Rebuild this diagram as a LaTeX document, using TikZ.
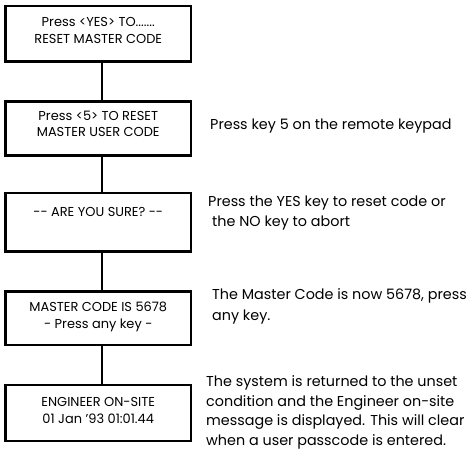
\documentclass[tikz,border=0pt]{standalone}
\usepackage{fontspec}
\setmainfont{Poppins}
\begin{document}
\begin{tikzpicture}[x=1bp,y=-1bp,
  box/.style={draw, line width=2.8bp, minimum width=185.5bp, inner sep=0pt},
  boxtext/.style={font=\fontsize{13}{17}\selectfont, align=center, anchor=base, inner sep=0pt},
  note/.style={font=\fontsize{14.4}{20.3}\selectfont, align=left, anchor=base west, inner sep=0pt},
  link/.style={line width=2bp}]
\useasboundingbox (0,0) rectangle (468,451);
\node[box, minimum height=55.5bp] (b1) at (98.25,33.75) {};
\node[box, minimum height=54bp] (b2) at (98.25,128.5) {};
\node[box, minimum height=58.5bp] (b3) at (98.25,222.25) {};
\node[box, minimum height=53.5bp] (b4) at (98.25,318.25) {};
\node[box, minimum height=56bp] (b5) at (98.25,413) {};
\draw[link] ([xshift=3.5bp]b1.south) -- ([xshift=3.5bp]b2.north);
\draw[link] ([xshift=3.5bp]b2.south) -- ([xshift=3.5bp]b3.north);
\draw[link] ([xshift=3.5bp]b3.south) -- ([xshift=3.5bp]b4.north);
\draw[link] ([xshift=3.5bp]b4.south) -- ([xshift=3.5bp]b5.north);
\node[boxtext] (t1) at (98.25,43.5) {Press <YES> TO.......\\RESET MASTER CODE};
\node[boxtext] (t2) at (98.25,137) {Press <5> TO RESET\\MASTER USER CODE};
\node[boxtext] (t3) at (98.25,217) {-{}- ARE YOU SURE? -{}-};
\node[boxtext] (t4) at (98.25,328) {MASTER CODE IS 5678\\- Press any key -};
\node[boxtext] (t5) at (98.25,423.5) {ENGINEER ON-SITE\\01 Jan ’93 01:01.44};
\node[note] (n2) at (210,130) {Press key 5 on the remote keypad};
\node[note] (n3) at (208,227) {Press the YES key to reset code or\\\hspace*{4bp}the NO key to abort};
\node[note] (n4) at (212,320) {The Master Code is now 5678, press\\any key.};
\node[note, font=\fontsize{14.4}{19.6}\selectfont] (n5) at (206,445.5) {The system is returned to the unset\\condition and the Engineer on-site\\message is displayed. This will clear\\when a user passcode is entered.};
\end{tikzpicture}
\end{document}
